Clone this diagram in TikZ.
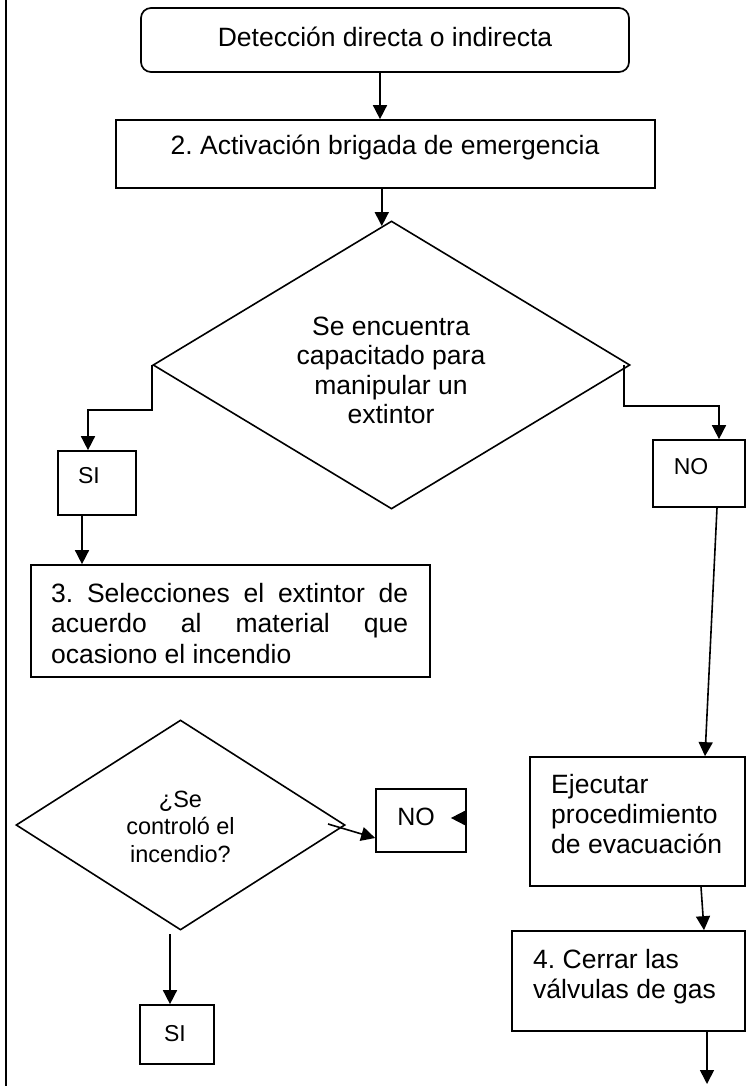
\documentclass[tikz,border=0pt]{standalone}
\usepackage{fontspec}
\setmainfont{Liberation Sans}
\usetikzlibrary{shapes.geometric,arrows.meta}
\newcommand\mylines[2]{\begin{tabular}[t]{@{}#1@{}}#2\end{tabular}}
\frenchspacing
\begin{document}
\begin{tikzpicture}[x=1pt,y=-1pt,
  box/.style={draw,line width=1.7pt,rectangle,inner sep=0pt},
  dia/.style={draw,line width=1.6pt,diamond,inner sep=0pt},
  arr/.style={line width=1.6pt,-{Triangle[length=14pt,width=14pt]}},
  lbl/.style={inner sep=0pt,anchor=base},
  lblw/.style={inner sep=0pt,anchor=base west},
  big/.style={font=\fontsize{26.5}{30}\selectfont},
  dtx/.style={font=\fontsize{26.5}{29.5}\selectfont},
  bthree/.style={font=\fontsize{26.5}{30.5}\selectfont},
  mid/.style={font=\fontsize{23.5}{27.5}\selectfont},
  yn/.style={font=\fontsize{23}{27}\selectfont}]
\useasboundingbox (0,0) rectangle (746,1086);
\fill[white] (0,0) rectangle (746,1086);
\draw[line width=2pt] (6,0) -- (6,1086);

% boxes
\node[box,rounded corners=10pt,minimum width=488pt,minimum height=64pt] (start) at (385,40) {};
\node[box,minimum width=539pt,minimum height=68pt] (act) at (385.5,154) {};
\node[dia,minimum width=477pt,minimum height=288pt] (d1) at (391.5,365) {};
\node[box,minimum width=78pt,minimum height=64pt] (si1) at (97,483) {};
\node[box,minimum width=92pt,minimum height=67pt] (no1) at (699,473.5) {};
\node[box,minimum width=399pt,minimum height=112pt] (b3) at (230.5,621) {};
\node[box,minimum width=215pt,minimum height=129pt] (eje) at (637.5,821.5) {};
\node[box,minimum width=233pt,minimum height=100pt] (cer) at (628.5,981) {};
\node[dia,minimum width=329pt,minimum height=210pt] (d2) at (180.5,825) {};
\node[box,minimum width=90pt,minimum height=63pt] (no2) at (421,820.5) {};
\node[box,minimum width=74pt,minimum height=59pt] (si2) at (177,1034.5) {};

% texts
\node[lbl,big] (startT) at (385,47) {Detección directa o indirecta};
\node[lbl,big] (actT) at (385,155) {2. Activación brigada de emergencia};
\node[lbl,dtx] (d1T) at (391,335) {\mylines{c}{Se encuentra\\capacitado para\\manipular un\\extintor}};
\node[lbl,yn] (si1T) at (89,483) {SI};
\node[lbl,yn] (no1T) at (691,474) {NO};
\node[lblw,bthree] (b3T) at (51,602) {\mylines{l}{\makebox[357pt][s]{3. Selecciones el extintor de}\\\makebox[357pt][s]{acuerdo al material que}\\ocasiono el incendio}};
\node[lblw,big] (ejeT) at (551,793) {\mylines{l}{Ejecutar\\procedimiento\\de evacuación}};
\node[lblw,big] (cerT) at (533,968) {\mylines{l}{4. Cerrar las\\válvulas de gas}};
\node[lbl,mid] (d2T) at (180.5,807) {\mylines{c}{¿Se\\controló el\\incendio?}};
\node[lbl,font=\fontsize{25}{29}\selectfont] (no2T) at (416,825) {NO};
\node[lbl,yn] (si2T) at (175,1041) {SI};

% connectors
\draw[arr] ([xshift=-5pt]start.south) -- ([xshift=-5pt]start.south |- act.north);
\draw[arr] (act.south -| d1.94) -- (d1.94);
\coordinate (k1) at (88,410);
\draw[arr] (d1.west) |- (k1) -- (k1 |- si1.north);
\coordinate (k2) at (719,406);
\draw[arr] ([xshift=-7pt]d1.east) |- (k2) -- (k2 |- no1.north);
\draw[arr] ([xshift=-15pt]si1.south) -- ([xshift=-15pt]si1.south |- b3.north);
\draw[arr] ([xshift=18pt]no1.south) -- ([xshift=67.5pt]eje.north);
\draw[arr] ([xshift=63.5pt]eje.south) -- ([xshift=75.5pt]cer.north);
\coordinate (e1) at (707,1084);
\draw[arr] (e1 |- cer.south) -- (e1);
\coordinate (c1) at (328,824);
\draw[arr] (c1) -- ([yshift=-17.5pt]no2.west);
\draw[arr] ([xshift=-1pt,yshift=2.5pt]no2.east) -- ([xshift=-16pt,yshift=2.5pt]no2.east);
\coordinate (c2) at (170,934);
\draw[arr] (c2) -- (c2 |- si2.north);
\end{tikzpicture}
\end{document}
